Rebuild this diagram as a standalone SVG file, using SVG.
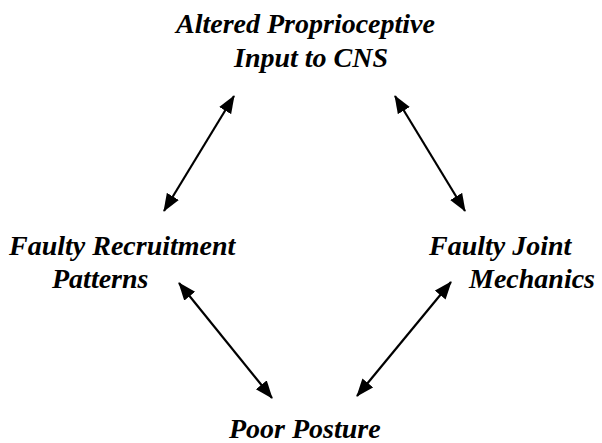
<svg xmlns="http://www.w3.org/2000/svg" width="602" height="443" viewBox="0 0 602 443" font-family="Liberation Serif">
<defs>
<marker id="ah" markerUnits="userSpaceOnUse" markerWidth="19" markerHeight="15" refX="17" refY="7" orient="auto-start-reverse">
<path d="M0,0 L18,7 L0,14 Z" fill="#000"/>
</marker>
</defs>
<rect width="602" height="443" fill="#fff"/>
<g id="n-top"><text x="176" y="33" font-family="Liberation Serif" font-size="28" font-style="italic" font-weight="bold">Altered Proprioceptive</text><text x="234" y="67" font-family="Liberation Serif" font-size="28" font-style="italic" font-weight="bold">Input to CNS</text></g>
<g><text x="9" y="255" font-family="Liberation Serif" font-size="28" font-style="italic" font-weight="bold">Faulty Recruitment</text><text x="52" y="288" font-family="Liberation Serif" font-size="28" font-style="italic" font-weight="bold">Patterns</text></g>
<text x="429" y="255" font-family="Liberation Serif" font-size="28" font-style="italic" font-weight="bold">Faulty Joint</text><text x="469" y="288" font-family="Liberation Serif" font-size="28" font-style="italic" font-weight="bold">Mechanics</text>
<g id="n-bottom"><text x="229" y="438" font-family="Times New Roman" font-size="28" font-style="italic" font-weight="bold">Poor Posture</text></g>
<g id="connectors" stroke="#000" stroke-width="2.2" fill="none" marker-start="url(#ah)" marker-end="url(#ah)">
<line x1="234" y1="96" x2="164" y2="211"/>
<line x1="395" y1="96" x2="465" y2="211"/>
<line x1="179" y1="283" x2="272" y2="398"/>
<line x1="451" y1="282" x2="357" y2="396"/>
</g>
</svg>
